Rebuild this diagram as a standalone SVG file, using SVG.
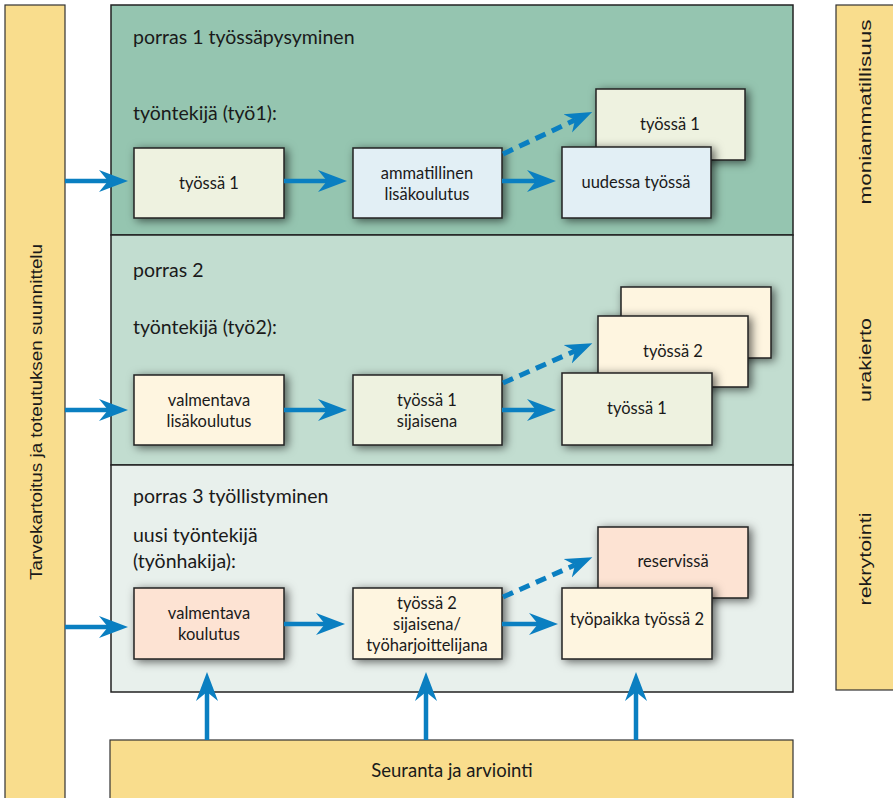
<svg xmlns="http://www.w3.org/2000/svg" width="893" height="798" viewBox="0 0 893 798">
  <defs>
    <filter id="shadow" x="-25%" y="-40%" width="160%" height="190%">
      <feDropShadow dx="3" dy="2" stdDeviation="5" flood-color="#000" flood-opacity="0.6"/>
    </filter>
    <marker id="head" markerUnits="userSpaceOnUse" markerWidth="30" markerHeight="24" viewBox="0 -12 30 24" refX="9" refY="0" orient="auto">
      <path d="M0,-11 L29,0 L0,11 L9,0 Z" fill="#0a7fc1"/>
    </marker>
    <marker id="headS" markerUnits="userSpaceOnUse" markerWidth="30" markerHeight="24" viewBox="0 -12 30 24" refX="8" refY="0" orient="auto">
      <path d="M0,-10 L27,0 L0,10 L8,0 Z" fill="#0a7fc1"/>
    </marker>
    <style>
      .bar { fill: #f9dd8d; stroke: #333; stroke-width: 1.2; }
      .panel { stroke: #222; stroke-width: 1.5; }
      .box { stroke: #222; stroke-width: 1.5; filter: url(#shadow); }
      .green { fill: #eef2e0; }
      .blue { fill: #e2eff5; }
      .cream { fill: #fef5e0; }
      .peach { fill: #fde3d3; }
      .lbl { font-family: "Lato", "Open Sans", "Liberation Sans", sans-serif; font-size: 16.5px; fill: #1a1a1a; text-anchor: middle; }
      .big { font-size: 18.5px; }
      .head { font-family: "Lato", "Open Sans", "Liberation Sans", sans-serif; font-size: 19.5px; fill: #1a1a1a; }
      .side { font-family: "Liberation Sans", "DejaVu Sans", sans-serif; font-size: 16px; fill: #1a1a1a; text-anchor: middle; }
      .side-l { font-size: 17px; }
      .arrow { stroke: #0a7fc1; stroke-width: 4.5; fill: none; marker-end: url(#head); }
      .dash { stroke: #0a7fc1; stroke-width: 5; fill: none; stroke-dasharray: 11 7; marker-end: url(#headS); }
    </style>
  </defs>

  <rect width="893" height="798" fill="#fff"/>

  <!-- side and bottom bars -->
  <g id="planning">
    <rect class="bar" x="5" y="5" width="60" height="800"/>
    <text class="side side-l" transform="translate(42,412) rotate(-90)" textLength="336" lengthAdjust="spacingAndGlyphs">Tarvekartoitus ja toteutuksen suunnittelu</text>
  </g>
  <g id="themes">
    <rect class="bar" x="836" y="5" width="70" height="685"/>
    <text class="side" transform="translate(871,112) rotate(-90)" textLength="185" lengthAdjust="spacingAndGlyphs">moniammatillisuus</text>
    <text class="side" transform="translate(871,360) rotate(-90)" textLength="84" lengthAdjust="spacingAndGlyphs">urakierto</text>
    <text class="side" transform="translate(871,559) rotate(-90)" textLength="93" lengthAdjust="spacingAndGlyphs">rekrytointi</text>
  </g>
  <g id="evaluation">
    <rect class="bar" x="110" y="740" width="683" height="70"/>
    <text class="lbl big" x="452" y="777">Seuranta ja arviointi</text>
  </g>

  <!-- step panels -->
  <g id="step1">
    <rect class="panel" x="111" y="5" width="682" height="230" fill="#95c5b0"/>
    <text class="head" x="133" y="44">porras 1 työssäpysyminen</text>
    <text class="head" x="133" y="120">työntekijä (työ1):</text>
  </g>
  <g id="step2">
    <rect class="panel" x="111" y="235" width="682" height="230" fill="#c2ddd0"/>
    <text class="head" x="133" y="277">porras 2</text>
    <text class="head" x="133" y="334">työntekijä (työ2):</text>
  </g>
  <g id="step3">
    <rect class="panel" x="111" y="465" width="682" height="227" fill="#e8f0ec"/>
    <text class="head" x="133" y="503">porras 3 työllistyminen</text>
    <text class="head" x="133" y="542">uusi työntekijä</text>
    <text class="head" x="133" y="568">(työnhakija):</text>
  </g>

  <!-- step 1 nodes -->
  <g id="s1-work1">
    <rect class="box green" x="134" y="148" width="150" height="70"/>
    <text class="lbl" x="209" y="189">työssä 1</text>
  </g>
  <g id="s1-training">
    <rect class="box blue" x="353" y="148" width="149" height="70"/>
    <text class="lbl" x="427" y="179">ammatillinen</text>
    <text class="lbl" x="427" y="200">lisäkoulutus</text>
  </g>
  <g id="s1-work1-back">
    <rect class="box green" x="596" y="89" width="149" height="71"/>
    <text class="lbl" x="670" y="130">työssä 1</text>
  </g>
  <g id="s1-newjob">
    <rect class="box blue" x="562" y="147" width="149" height="71"/>
    <text class="lbl" x="636" y="188">uudessa työssä</text>
  </g>

  <!-- step 2 nodes -->
  <g id="s2-training">
    <rect class="box cream" x="134" y="375" width="150" height="70"/>
    <text class="lbl" x="209" y="406">valmentava</text>
    <text class="lbl" x="209" y="427">lisäkoulutus</text>
  </g>
  <g id="s2-substitute">
    <rect class="box green" x="353" y="375" width="149" height="70"/>
    <text class="lbl" x="427" y="406">työssä 1</text>
    <text class="lbl" x="427" y="427">sijaisena</text>
  </g>
  <g id="s2-stack-back">
    <rect class="box cream" x="621" y="287" width="150" height="71"/>
  </g>
  <g id="s2-work2">
    <rect class="box cream" x="598" y="316" width="150" height="71"/>
    <text class="lbl" x="673" y="357">työssä 2</text>
  </g>
  <g id="s2-work1">
    <rect class="box green" x="562" y="373" width="150" height="72"/>
    <text class="lbl" x="637" y="414">työssä 1</text>
  </g>

  <!-- step 3 nodes -->
  <g id="s3-training">
    <rect class="box peach" x="134" y="588" width="150" height="71"/>
    <text class="lbl" x="209" y="619">valmentava</text>
    <text class="lbl" x="209" y="640">koulutus</text>
  </g>
  <g id="s3-trainee">
    <rect class="box cream" x="353" y="588" width="149" height="71"/>
    <text class="lbl" x="427" y="609">työssä 2</text>
    <text class="lbl" x="427" y="630">sijaisena/</text>
    <text class="lbl" x="427" y="651">työharjoittelijana</text>
  </g>
  <g id="s3-reserve">
    <rect class="box peach" x="598" y="527" width="150" height="71"/>
    <text class="lbl" x="673" y="567">reservissä</text>
  </g>
  <g id="s3-job">
    <rect class="box cream" x="562" y="588" width="150" height="71"/>
    <text class="lbl" x="637" y="625">työpaikka työssä 2</text>
  </g>

  <!-- connectors -->
  <g id="connectors">
    <line class="arrow" x1="65" y1="181" x2="108" y2="181"/>
    <line class="arrow" x1="284" y1="181" x2="327" y2="181"/>
    <line class="arrow" x1="502" y1="181" x2="536" y2="181"/>
    <line class="dash" x1="503" y1="154" x2="575" y2="120"/>

    <line class="arrow" x1="65" y1="410" x2="108" y2="410"/>
    <line class="arrow" x1="284" y1="410" x2="327" y2="410"/>
    <line class="arrow" x1="502" y1="410" x2="536" y2="410"/>
    <line class="dash" x1="503" y1="383" x2="575" y2="351"/>

    <line class="arrow" x1="65" y1="627" x2="108" y2="627"/>
    <line class="arrow" x1="284" y1="624" x2="325" y2="624"/>
    <line class="arrow" x1="502" y1="624" x2="538" y2="624"/>
    <line class="dash" x1="503" y1="597" x2="575" y2="565"/>

    <line class="arrow" x1="207" y1="740" x2="207" y2="692"/>
    <line class="arrow" x1="426" y1="740" x2="426" y2="692"/>
    <line class="arrow" x1="636" y1="740" x2="636" y2="692"/>
  </g>
</svg>
